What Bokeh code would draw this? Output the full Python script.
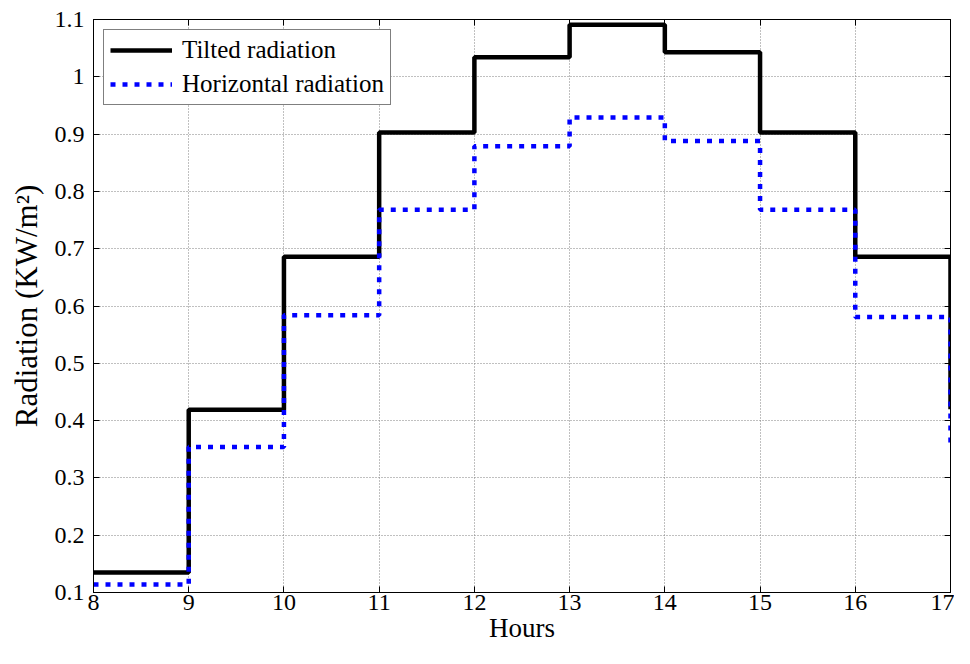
from bokeh.plotting import figure
from bokeh.models import Range1d, FixedTicker, LinearAxis, CustomJSTickFormatter, Legend, LegendItem
from bokeh.embed import file_html
from bokeh.resources import INLINE

hours = [8, 9, 10, 11, 12, 13, 14, 15, 16, 17]
tilted = [0.135, 0.419, 0.686, 0.903, 1.034, 1.091, 1.043, 0.903, 0.686, 0.42]
horizontal = [0.114, 0.354, 0.584, 0.768, 0.879, 0.929, 0.888, 0.768, 0.581, 0.36]
x_ticks = [8, 9, 10, 11, 12, 13, 14, 15, 16, 17]
y_ticks = [0.1, 0.2, 0.3, 0.4, 0.5, 0.6, 0.7, 0.8, 0.9, 1.0, 1.1]

FONT = "Liberation Serif"

p = figure(width=954, height=648, output_backend="svg", toolbar_location=None,
           x_range=Range1d(8, 17), y_range=Range1d(0.1, 1.1),
           min_border_left=93, min_border_right=4, min_border_top=19, min_border_bottom=56)
p.outline_line_color = "black"
p.outline_line_width = 1

fmt = CustomJSTickFormatter(code="return tick.toFixed(1).replace(/\\.0$/, '');")
blank = CustomJSTickFormatter(code="return '';")

for ax, ticks in ((p.xaxis[0], x_ticks), (p.yaxis[0], y_ticks)):
    ax.ticker = FixedTicker(ticks=ticks)
    ax.major_tick_in = 6
    ax.major_tick_out = 0
    ax.minor_tick_line_color = None
    ax.axis_line_color = "black"
    ax.major_tick_line_color = "black"
    ax.major_label_text_font = FONT
    ax.major_label_text_font_size = "24px"
    ax.major_label_text_color = "black"
    ax.axis_label_text_font = FONT
    ax.axis_label_text_font_style = "normal"
    ax.axis_label_text_color = "black"

p.yaxis[0].formatter = fmt
p.xaxis[0].axis_label = "Hours"
p.yaxis[0].axis_label = "Radiation (KW/m\u00b2)"
p.xaxis[0].axis_label_text_font_size = "27px"
p.yaxis[0].axis_label_text_font_size = "31px"
p.xaxis[0].major_label_standoff = 2
p.yaxis[0].major_label_standoff = 9
p.xaxis[0].axis_label_standoff = 0
p.yaxis[0].axis_label_standoff = 8

for loc, ticks in (("above", x_ticks), ("right", y_ticks)):
    ax = LinearAxis(ticker=FixedTicker(ticks=ticks), formatter=blank,
                    major_tick_in=6, major_tick_out=0,
                    minor_tick_line_color=None, major_label_standoff=0,
                    axis_line_color="black", major_tick_line_color="black")
    p.add_layout(ax, loc)

p.xgrid.ticker = FixedTicker(ticks=x_ticks)
p.ygrid.ticker = FixedTicker(ticks=y_ticks)
p.grid.grid_line_color = "#808080"
p.grid.grid_line_dash = "1 2"
p.grid.grid_line_width = 1

r1 = p.step(hours, tilted, mode="after", line_color="black", line_width=4.5)
r2 = p.step(hours, horizontal, mode="after", line_color="#0000ff", line_width=4.5, line_dash="5 7")

legend = Legend(items=[LegendItem(label="Tilted radiation", renderers=[r1]),
                       LegendItem(label="Horizontal radiation", renderers=[r2])],
                location="top_left")
legend.label_text_font = FONT
legend.label_text_font_size = "25px"
legend.label_text_color = "black"
legend.border_line_color = "black"
legend.border_line_width = 1
legend.glyph_width = 62
legend.glyph_height = 28
legend.label_height = 28
legend.spacing = 6
legend.padding = 6
legend.margin = 10
legend.label_standoff = 10
legend.background_fill_alpha = 1
p.add_layout(legend)

open("out.html", "w").write(file_html(p, INLINE))
